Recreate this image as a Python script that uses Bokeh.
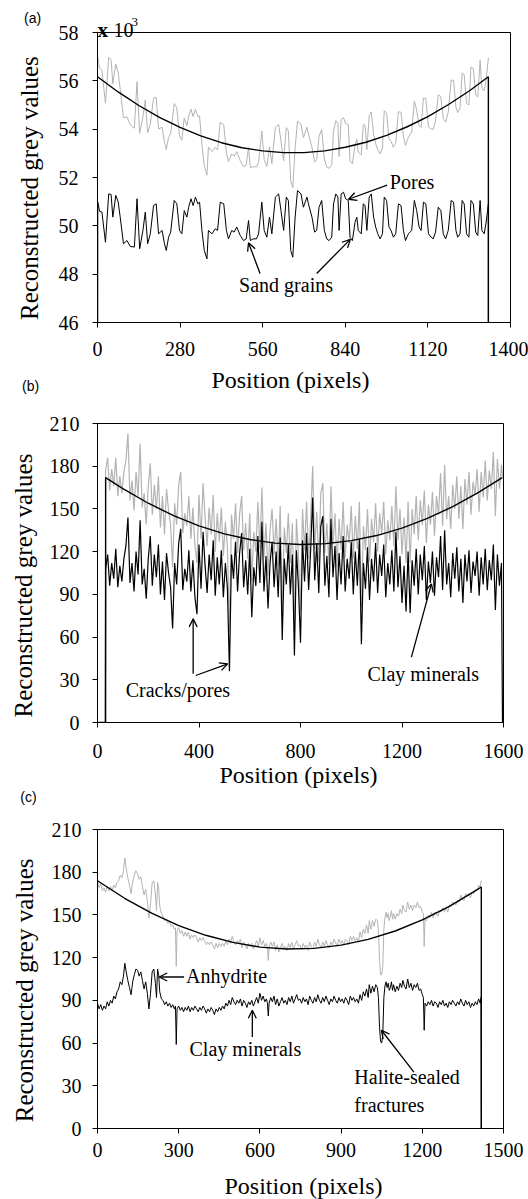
import math
from bokeh.plotting import figure
from bokeh.layouts import column
from bokeh.models import Range1d, FixedTicker, Label, Arrow, OpenHead
from bokeh.core.properties import value
from bokeh.embed import file_html
from bokeh.resources import INLINE

SERIF = "Liberation Serif"
SANS = "Liberation Sans"
GREY = "#b3b3b3"

# ---------------- panel (a) : values in units of 10^3 ----------------
x_a = [0, 1, 7, 15, 27, 38, 46, 52, 62, 70,
       77, 88, 100, 111, 125, 134, 143, 154, 162, 170,
       179, 190, 199, 207, 219, 227, 233, 241, 248, 260,
       269, 278, 286, 294, 303, 309, 317, 324, 332, 340,
       346, 354, 362, 371, 376, 388, 399, 407, 416, 428,
       437, 444, 455, 463, 472, 484, 495, 504, 512, 518,
       527, 539, 546, 557, 565, 574, 583, 591, 603, 614,
       622, 631, 640, 647, 655, 662, 670, 678, 690, 698,
       710, 715, 727, 736, 743, 751, 760, 769, 777, 785,
       794, 800, 808, 815, 819, 826, 834, 841, 850, 856,
       864, 873, 879, 884, 894, 901, 907, 913, 921, 928,
       936, 943, 950, 958, 966, 972, 980, 988, 995, 1003,
       1011, 1020, 1029, 1037, 1044, 1054, 1065, 1074, 1082, 1090,
       1097, 1105, 1113, 1122, 1131, 1138, 1146, 1155, 1164, 1172,
       1180, 1189, 1199, 1207, 1215, 1221, 1229, 1236, 1243, 1251,
       1259, 1266, 1274, 1282, 1289, 1297, 1303, 1311, 1318, 1325,
       1325]
black_a = [0, 50.98, 50.6, 50.57, 49.32, 51.32, 51.3, 50.36, 51.26, 51.0,
           50.36, 49.26, 49.39, 49.15, 49.12, 51.12, 49.05, 49.81, 50.57, 49.26,
           49.67, 50.84, 50.91, 49.67, 49.81, 49.26, 48.98, 49.53, 49.74, 51.05,
           50.91, 49.81, 49.67, 50.63, 50.36, 50.77, 51.12, 50.84, 51.19, 50.91,
           50.98, 49.81, 48.98, 48.63, 49.81, 49.67, 49.88, 49.81, 50.98, 50.91,
           49.81, 49.46, 49.81, 49.74, 49.95, 49.6, 49.39, 49.46, 50.22, 49.39,
           49.46, 49.46, 49.67, 50.98, 49.81, 49.53, 50.36, 49.67, 51.19, 51.32,
           50.63, 49.81, 51.19, 51.05, 48.98, 48.7, 50.36, 51.46, 51.32, 50.77,
           51.19, 50.91, 50.36, 49.74, 49.81, 50.77, 51.05, 49.81, 49.46, 49.39,
           49.53, 50.91, 51.32, 51.19, 49.81, 51.32, 51.39, 51.12, 51.05, 49.53,
           49.39, 50.15, 50.36, 49.81, 49.67, 50.91, 50.84, 49.81, 51.19, 51.32,
           50.36, 49.95, 49.67, 49.46, 49.67, 51.19, 51.05, 49.95, 49.81, 49.53,
           49.67, 50.91, 50.84, 49.81, 49.39, 49.67, 49.81, 51.05, 50.63, 49.95,
           49.81, 50.98, 50.91, 49.67, 49.53, 49.46, 49.74, 50.77, 50.63, 49.67,
           49.46, 49.81, 51.05, 50.98, 49.81, 49.53, 49.67, 51.05, 50.91, 49.67,
           49.53, 51.05, 50.91, 49.74, 49.6, 51.05, 49.81, 49.67, 50.2, 50.9,
           0]
grey_a = [57.0, 56.98, 56.53, 56.43, 55.07, 56.97, 56.88, 55.88, 56.69, 56.36,
          55.66, 54.47, 54.51, 54.18, 54.04, 55.97, 53.83, 54.51, 55.21, 53.85,
          54.2, 55.29, 55.31, 54.01, 54.08, 53.48, 53.16, 53.66, 53.82, 55.06,
          54.87, 53.72, 53.54, 54.46, 54.14, 54.52, 54.83, 54.52, 54.83, 54.52,
          54.55, 53.35, 52.49, 52.1, 53.26, 53.07, 53.24, 53.14, 54.28, 54.17,
          53.04, 52.66, 52.98, 52.88, 53.07, 52.69, 52.45, 52.5, 53.24, 52.4,
          52.45, 52.43, 52.63, 53.92, 52.74, 52.45, 53.27, 52.57, 54.08, 54.2,
          53.51, 52.69, 54.06, 53.92, 51.85, 51.57, 53.23, 54.33, 54.2, 53.65,
          54.08, 53.8, 53.26, 52.65, 52.73, 53.7, 53.99, 52.77, 52.43, 52.38,
          52.53, 53.92, 54.35, 54.24, 52.87, 54.39, 54.48, 54.23, 54.19, 52.68,
          52.57, 53.35, 53.58, 53.05, 52.94, 54.2, 54.15, 53.15, 54.56, 54.71,
          53.78, 53.4, 53.15, 52.98, 53.22, 54.77, 54.66, 53.6, 53.5, 53.25,
          53.43, 54.72, 54.7, 53.71, 53.33, 53.67, 53.88, 55.17, 54.79, 54.16,
          54.07, 55.29, 55.27, 54.09, 54.01, 53.99, 54.33, 55.42, 55.34, 54.44,
          54.29, 54.71, 56.03, 56.02, 54.91, 54.68, 54.88, 56.33, 56.25, 55.07,
          55.0, 56.58, 56.51, 55.41, 55.33, 56.85, 55.67, 55.6, 56.1, 56.95,
          56.95]
fit_x_a = [0, 70, 140, 210, 280, 350, 420, 490, 560, 630, 700,
           770, 840, 910, 980, 1050, 1120, 1190, 1260, 1325, 1325]
fit_a = [56.17, 55.54, 54.98, 54.49, 54.07, 53.72, 53.44, 53.23, 53.10, 53.03, 53.03,
         53.10, 53.25, 53.46, 53.74, 54.10, 54.52, 55.02, 55.58, 56.17, 40.0]
xticks_a = [0, 280, 560, 840, 1120, 1400]
yticks_a = [46, 48, 50, 52, 54, 56, 58]

# ---------------- panel (b) ----------------
x_b = [0, 31] + list(range(32, 1593, 8)) + [1596]
black_b = [0, 0,
           108, 118, 96, 112, 101, 122, 95, 110, 99, 115,
           124, 144, 98, 112, 92, 120, 104, 142, 97, 108,
           87, 115, 131, 96, 118, 102, 125, 90, 113, 86,
           119, 105, 95, 66, 112, 97, 126, 136, 93, 108,
           99, 121, 92, 114, 88, 76, 125, 94, 134, 110,
           91, 118, 100, 128, 89, 116, 97, 121, 88, 112,
           94, 36, 118, 101, 127, 92, 119, 133, 95, 114,
           90, 122, 74, 109, 96, 131, 98, 141, 92, 117,
           80, 112, 127, 95, 120, 88, 130, 58, 115, 97,
           125, 90, 118, 47, 121, 95, 56, 128, 99, 133,
           93, 121, 158, 100, 126, 91, 138, 145, 96, 117,
           88, 143, 102, 124, 86, 119, 97, 131, 92, 115,
           101, 127, 90, 120, 96, 129, 55, 112, 94, 123,
           86, 115, 99, 126, 91, 118, 103, 125, 88, 112,
           97, 121, 92, 134, 95, 117, 84, 110, 78, 120,
           77, 114, 96, 122, 90, 118, 100, 124, 86, 113,
           98, 120, 89, 116, 102, 131, 93, 135, 97, 112,
           88, 119, 101, 123, 92, 115, 84, 118, 99, 121,
           91, 113, 103, 120, 89, 116, 97, 122, 93, 114,
           100, 125, 79, 118, 96, 112,
           0]
grey_b = [0, 0,
          177, 186, 163, 178, 166, 186, 159, 173, 161, 176,
          184, 203, 156, 170, 149, 176, 159, 196, 151, 161,
          139, 166, 182, 146, 167, 150, 173, 137, 159, 132,
          164, 149, 139, 109, 154, 139, 167, 176, 133, 147,
          138, 159, 129, 151, 124, 112, 160, 129, 168, 144,
          124, 151, 132, 160, 120, 147, 127, 151, 117, 141,
          123, 64, 146, 129, 154, 119, 146, 159, 121, 140,
          115, 147, 99, 134, 120, 155, 122, 165, 116, 140,
          103, 135, 150, 118, 143, 110, 152, 80, 137, 119,
          147, 112, 140, 69, 143, 117, 78, 150, 121, 155,
          115, 143, 180, 122, 148, 113, 161, 168, 119, 140,
          111, 166, 125, 147, 109, 143, 121, 155, 116, 139,
          126, 152, 115, 145, 122, 155, 81, 138, 121, 150,
          113, 143, 127, 154, 120, 147, 132, 155, 118, 142,
          128, 152, 124, 166, 128, 150, 118, 144, 112, 155,
          112, 150, 132, 159, 128, 156, 139, 163, 126, 153,
          139, 162, 131, 159, 146, 175, 138, 181, 143, 159,
          136, 167, 150, 173, 143, 166, 136, 171, 153, 176,
          146, 169, 160, 178, 148, 176, 158, 184, 156, 177,
          164, 190, 145, 185, 164, 181,
          172]
fit_x_b = [0, 32, 32, 100, 200, 300, 400, 500, 600, 700, 800,
           900, 1000, 1100, 1200, 1300, 1400, 1500, 1595]
fit_b = [0, 0, 172.0, 164.2, 154.0, 145.3, 138.1, 132.5, 128.5, 126.0, 125.0,
         125.6, 127.7, 131.3, 136.5, 143.3, 151.6, 161.4, 172.0]
xticks_b = [0, 400, 800, 1200, 1600]
yticks_bc = [0, 30, 60, 90, 120, 150, 180, 210]

# ---------------- panel (c) ----------------
x_c = [0, 6, 12, 18, 24, 30, 36, 42, 48, 54,
       60, 66, 72, 78, 84, 90, 96, 101, 106, 112,
       118, 124, 130, 136, 142, 148, 154, 160, 166, 172,
       178, 184, 190, 196, 202, 208, 214, 218, 222, 226,
       230, 236, 242, 248, 254, 260, 266, 272, 278, 284,
       288, 291, 294, 300, 306, 312, 318, 324, 330, 336,
       342, 348, 354, 360, 366, 372, 378, 384, 390, 396,
       402, 408, 414, 420, 426, 432, 438, 444, 450, 456,
       462, 468, 474, 480, 486, 492, 498, 504, 510, 516,
       522, 528, 534, 540, 546, 552, 558, 564, 570, 576,
       582, 588, 594, 600, 606, 612, 618, 624, 628, 631,
       634, 640, 646, 652, 658, 664, 670, 676, 682, 688,
       694, 700, 706, 712, 718, 724, 730, 736, 742, 748,
       754, 760, 766, 772, 778, 784, 790, 796, 802, 808,
       814, 820, 826, 832, 838, 844, 850, 856, 862, 868,
       874, 880, 886, 892, 898, 904, 910, 916, 922, 928,
       934, 940, 946, 952, 958, 964, 970, 976, 982, 988,
       994, 1000, 1004, 1010, 1016, 1022, 1028, 1034, 1038, 1042,
       1046, 1050, 1054, 1058, 1062, 1066, 1070, 1074, 1078, 1082,
       1086, 1090, 1094, 1100, 1106, 1112, 1118, 1124, 1128, 1134,
       1140, 1146, 1152, 1158, 1164, 1170, 1176, 1182, 1188, 1194,
       1200, 1204, 1207, 1210, 1216, 1222, 1228, 1234, 1240, 1246,
       1252, 1258, 1264, 1270, 1276, 1282, 1288, 1294, 1300, 1306,
       1312, 1318, 1324, 1330, 1336, 1342, 1348, 1354, 1360, 1366,
       1372, 1378, 1384, 1390, 1396, 1402, 1408, 1414, 1417, 1418]
black_c = [88, 84, 87, 83, 86, 84, 89, 86, 90, 88,
           93, 91, 96, 98, 103, 101, 107, 116, 110, 104,
           99, 94, 103, 108, 112, 111, 107, 110, 104, 98,
           103, 95, 84, 95, 110, 112, 102, 92, 112, 108,
           96, 91, 90, 87, 89, 86, 88, 85, 87, 84,
           86, 59, 84, 86, 83, 85, 82, 85, 83, 86,
           82, 85, 83, 86, 84, 82, 85, 83, 86, 84,
           81, 84, 82, 85, 83, 80, 84, 82, 85, 83,
           86, 84, 88, 86, 90, 87, 92, 89, 87, 90,
           88, 91, 86, 90, 88, 85, 89, 87, 90, 86,
           89, 92, 88, 95, 90, 93, 89, 91, 88, 79,
           88, 92, 89, 93, 87, 91, 86, 89, 92, 88,
           90, 87, 92, 89, 93, 88, 91, 94, 90, 91,
           88, 92, 89, 91, 87, 93, 90, 88, 92, 89,
           94, 90, 88, 92, 89, 93, 90, 87, 91, 89,
           93, 90, 88, 92, 89, 91, 88, 92, 90, 87,
           93, 90, 92, 89, 91, 88, 94, 90, 96, 93,
           98, 92, 101, 95, 100, 96, 101, 99, 92, 71,
           61, 60, 66, 92, 100, 103, 99, 102, 97, 99,
           103, 97, 101, 96, 100, 97, 102, 99, 104, 100,
           98, 105, 99, 102, 97, 101, 99, 102, 97, 98,
           94, 92, 69, 88, 86, 89, 87, 90, 86, 89,
           88, 85, 89, 87, 90, 86, 88, 85, 89, 87,
           90, 88, 86, 89, 87, 91, 88, 86, 90, 87,
           89, 85, 88, 86, 89, 87, 91, 88, 92, 0]
grey_c = [174, 169, 172, 167, 169, 166, 170, 167, 170, 167,
          171, 169, 173, 174, 178, 176, 181, 190, 183, 176,
          171, 165, 173, 178, 181, 179, 175, 177, 170, 164,
          168, 160, 148, 158, 173, 174, 164, 153, 173, 169,
          156, 151, 149, 146, 147, 144, 145, 142, 143, 140,
          141, 114, 139, 141, 137, 139, 135, 138, 135, 138,
          133, 136, 134, 136, 134, 131, 134, 132, 134, 132,
          129, 131, 129, 131, 129, 126, 130, 127, 130, 128,
          130, 128, 132, 129, 133, 130, 135, 131, 129, 132,
          130, 133, 127, 131, 129, 126, 130, 128, 130, 126,
          129, 132, 128, 134, 129, 132, 128, 130, 127, 118,
          127, 131, 128, 131, 125, 129, 124, 127, 130, 126,
          128, 125, 130, 127, 131, 126, 129, 132, 128, 129,
          126, 130, 127, 129, 125, 131, 128, 126, 131, 128,
          133, 129, 127, 131, 128, 132, 129, 127, 131, 129,
          133, 130, 129, 133, 130, 132, 129, 133, 132, 129,
          135, 132, 135, 132, 134, 131, 138, 134, 140, 137,
          143, 137, 146, 140, 146, 142, 147, 146, 139, 118,
          108, 108, 114, 140, 148, 152, 148, 151, 146, 149,
          153, 147, 151, 147, 151, 149, 154, 151, 157, 153,
          152, 159, 154, 157, 153, 157, 155, 159, 155, 156,
          152, 151, 128, 147, 146, 150, 148, 152, 148, 152,
          151, 149, 153, 152, 155, 152, 155, 152, 157, 156,
          159, 158, 157, 160, 159, 164, 161, 160, 165, 163,
          165, 162, 166, 165, 168, 167, 171, 169, 174, 174]
fit_x_c = [0, 100, 200, 300, 400, 500, 600, 700, 800, 900,
           1000, 1100, 1200, 1300, 1400, 1418, 1418]
fit_c = [174.0, 161.7, 151.2, 142.5, 135.7, 130.7, 127.4, 126.1, 126.5, 128.8,
         132.8, 138.7, 146.5, 156.0, 167.4, 169.6, 0]
xticks_c = [0, 300, 600, 900, 1200, 1500]

Y_TITLE = "Reconstructed grey values"
X_TITLE = "Position (pixels)"


def make_fig(fw, fh, bl, br, bt, bb, xr, yr, xticks, yticks, xstand, ystand):
    p = figure(frame_width=fw, frame_height=fh,
               x_range=Range1d(*xr), y_range=Range1d(*yr),
               min_border_left=bl, min_border_right=br,
               min_border_top=bt, min_border_bottom=bb,
               output_backend="svg", toolbar_location=None)
    p.xgrid.visible = False
    p.ygrid.visible = False
    p.outline_line_color = "black"
    p.outline_line_width = 1
    p.background_fill_color = "white"
    p.border_fill_color = "white"
    for ax, ticks in ((p.xaxis[0], xticks), (p.yaxis[0], yticks)):
        ax.ticker = FixedTicker(ticks=ticks)
        ax.major_tick_in = 0
        ax.major_tick_out = 5
        ax.minor_tick_line_color = None
        ax.axis_line_color = "black"
        ax.major_tick_line_color = "black"
        ax.major_label_text_font = SERIF
        ax.major_label_text_font_size = "20px"
        ax.major_label_text_color = "black"
    p.xaxis.major_label_standoff = xstand
    p.yaxis.major_label_standoff = ystand
    return p


def txt(p, x, y, s, size="20px", font=SERIF, align="left", baseline="middle"):
    p.add_layout(Label(x=x, y=y, text=s, text_font=font, text_font_size=size,
                       text_align=align, text_baseline=baseline,
                       text_color="black"))


def gtext(p, x, y, s, size, font, align="left", baseline="middle",
          style="normal", angle=0.0):
    # text glyph drawn on the overlay level so that it may sit outside the frame
    p.text(x=[x], y=[y], text=[s], text_font=value(font),
           text_font_size=value(size), text_align=align,
           text_baseline=baseline, text_font_style=style, angle=angle,
           text_color="black", level="overlay")


def arrow(p, x0, y0, x1, y1):
    p.add_layout(Arrow(end=OpenHead(size=8, line_width=1.3, line_color="black"),
                       x_start=x0, y_start=y0, x_end=x1, y_end=y1,
                       line_color="black", line_width=1.3))


# ---------- figure (a) ----------
p1 = make_fig(413, 290, 94, 21, 32, 72, (0, 1400), (46, 58), xticks_a, yticks_a, 14, 14)
p1.line(x_a, grey_a, line_color=GREY, line_width=1)
p1.line(fit_x_a, fit_a, line_color="black", line_width=1.4)
p1.line(x_a, black_a, line_color="black", line_width=1)
gtext(p1, -220, 58.61, "(a)", "14px", SANS, align="center")
gtext(p1, 0, 58.12, "x", "21px", SERIF, baseline="alphabetic", style="bold")
gtext(p1, 54, 58.12, "10", "20px", SERIF, baseline="alphabetic")
gtext(p1, 115, 58.43, "3", "13px", SERIF, baseline="alphabetic")
gtext(p1, -232, 51.56, Y_TITLE, "25px", SERIF, align="center", angle=math.pi / 2)
gtext(p1, 654, 43.62, X_TITLE, "24px", SERIF, align="center")
gtext(p1, -227, 43.37, "(b)", "14px", SANS, align="center")
txt(p1, 991, 51.83, "Pores")
arrow(p1, 982, 51.68, 851, 51.1)
txt(p1, 480, 47.55, "Sand grains")
arrow(p1, 551, 48.03, 512, 49.3)
arrow(p1, 743, 48.03, 857, 49.44)

# ---------- figure (b) ----------
p2 = make_fig(406, 299, 97, 25, 29, 68, (0, 1600), (0, 210), xticks_b, yticks_bc, 16, 13)
p2.line(x_b, grey_b, line_color=GREY, line_width=1.2)
p2.line(fit_x_b, fit_b, line_color="black", line_width=1.4)
p2.line(x_b, black_b, line_color="black", line_width=1.2)
gtext(p2, -292, 96.2, Y_TITLE, "25px", SERIF, align="center", angle=math.pi / 2)
gtext(p2, 792, -37.2, X_TITLE, "24px", SERIF, align="center")
txt(p2, 111, 22.5, "Cracks/pores")
arrow(p2, 377, 34.2, 377, 72.8)
arrow(p2, 387, 33, 513, 41.2)
txt(p2, 1064, 34.2, "Clay minerals")
arrow(p2, 1237, 45.9, 1316, 97.4)

# ---------- figure (c) ----------
p3 = make_fig(406, 299, 95, 27, 39, 71, (0, 1500), (0, 210), xticks_c, yticks_bc, 9, 11)
p3.line(x_c, grey_c, line_color=GREY, line_width=1)
p3.line(fit_x_c, fit_c, line_color="black", line_width=1.4)
p3.line(x_c, black_c, line_color="black", line_width=1)
gtext(p3, -255, 232.7, "(c)", "14px", SANS, align="center")
gtext(p3, -270, 97, Y_TITLE, "25px", SERIF, align="center", angle=math.pi / 2)
gtext(p3, 761, -40.1, X_TITLE, "24px", SERIF, align="center")
txt(p3, 327, 107, "Anhydrite")
arrow(p3, 320, 106.4, 228, 106.4)
txt(p3, 340, 55.5, "Clay minerals")
arrow(p3, 572, 64.2, 572, 83)
txt(p3, 949, 36.2, "Halite-sealed")
txt(p3, 949, 16.2, "fractures")
arrow(p3, 1169, 39.6, 1049, 69)

layout = column(p1, p2, p3)
open("out.html", "w").write(file_html(layout, INLINE))
